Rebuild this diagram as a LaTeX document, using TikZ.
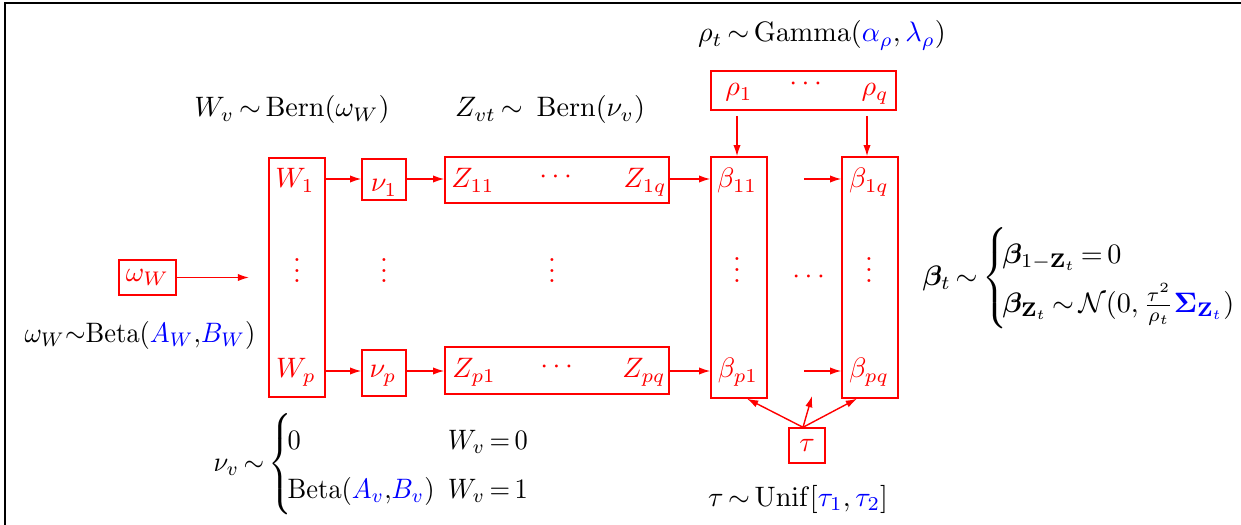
\documentclass[tikz,border=0pt]{standalone}
\usepackage{amsmath,amssymb,bm,graphicx}
\usetikzlibrary{arrows.meta,fit}
\thickmuskip=3mu plus 2mu
\medmuskip=3mu plus 1mu
\newcommand\myvdots{\vbox{\baselineskip3.8pt\lineskiplimit0pt\hbox{.}\hbox{.}\hbox{.}}}
\begin{document}
\begin{tikzpicture}[x=0.0125cm,y=-0.0125cm,
  box/.style={draw=red,line width=0.5pt,inner sep=0pt},
  rtxt/.style={text=red,inner sep=0pt},
  btxt/.style={text=black,inner sep=0pt},
  arr/.style={red,line width=0.5pt,-{Latex[length=4pt,width=2.6pt]}}]
\useasboundingbox (0,0) rectangle (1241,525);
\draw[line width=0.8pt] (5,525) -- (5,3) -- (1241,3);

% ---------- black labels ----------
\node[btxt,anchor=base] (lW) at (292,117) {$W_v\sim\mathrm{Bern}(\omega_W)$};
\node[btxt,anchor=base] (lZ) at (550,117) {$Z_{vt}\sim\ \mathrm{Bern}(\nu_v)$};
\node[btxt,anchor=base] (lrho) at (822,42) {$\rho_t\sim\mathrm{Gamma}(\textcolor{blue}{\alpha_\rho},\textcolor{blue}{\lambda_\rho})$};
\node[btxt,anchor=base] (lom) at (140,342) {\scalebox{0.94}[1]{$\omega_W{\sim}\mathrm{Beta}(\textcolor{blue}{A_W}{,}\textcolor{blue}{B_W})$}};
\node[btxt,anchor=west] (lnu) at (213,464) {\scalebox{0.94}[1]{$\nu_v\sim\left\{\!\renewcommand{\arraystretch}{1.45}\begin{array}{@{}l@{\hspace{5pt}}l@{}}0 & W_v=0\\ \mathrm{Beta}(\textcolor{blue}{A_v}{,}\textcolor{blue}{B_v}) & W_v=1\end{array}\right.$}};
\node[btxt,anchor=west] (lbeta) at (922,278) {$\bm{\beta}_t\sim\left\{\!\renewcommand{\arraystretch}{1.45}\begin{array}{@{}l@{}}\bm{\beta}_{1-\mathbf{Z}_t}=0\\ \bm{\beta}_{\mathbf{Z}_t}\sim\mathcal{N}(0,\frac{\tau^2}{\rho_t}\textcolor{blue}{\bm{\Sigma}_{\mathbf{Z}_t}})\end{array}\right.$};
\node[btxt,anchor=base] (ltau) at (798,506) {$\tau\sim\mathrm{Unif}[\textcolor{blue}{\tau_1},\textcolor{blue}{\tau_2}]$};

% ---------- red boxes ----------
\node[box,fit={(269,158)(325,397)}] (Wcol) {};
\node[box,minimum width=0.55cm,minimum height=0.5125cm] (nu1) at (384,179.5) {};
\node[box,minimum width=0.55cm,minimum height=0.575cm] (nup) at (384,373) {};
\node[box,fit={(445,157)(669,203)}] (Z1) {};
\node[box,fit={(445,347)(669,394)}] (Zp) {};
\node[box,fit={(711,71)(896,110)}] (rho) {};
\node[box,fit={(711,157)(767,398)}] (B1) {};
\node[box,fit={(842,157)(898,398)}] (B2) {};
\node[box,text=red,minimum width=0.7125cm,minimum height=0.4375cm] (om) at (147.5,277.5) {$\omega_W$};
\node[box,text=red,minimum width=0.45cm,minimum height=0.4375cm] (tau) at (807,445.5) {$\tau$};

% ---------- red texts ----------
\node[rtxt,anchor=base] (W1) at (295,188) {$W_1$};
\node[rtxt,anchor=base] (Wd) at (297,283) {$\myvdots$};
\node[rtxt,anchor=base] (Wp) at (296,378) {$W_p$};
\node[rtxt,anchor=base] (nu1t) at (384,192) {$\nu_1$};
\node[rtxt,anchor=base] (nud) at (384,283) {$\myvdots$};
\node[rtxt,anchor=base] (nupt) at (383,378) {$\nu_p$};
\node[rtxt,anchor=base] (Z11) at (473,188) {$Z_{11}$};
\node[rtxt,anchor=base] (Z1c) at (558,184) {$\cdots$};
\node[rtxt,anchor=base] (Z1q) at (645,188) {$Z_{1q}$};
\node[rtxt,anchor=base] (Zd) at (552,283) {$\myvdots$};
\node[rtxt,anchor=base] (Zp1) at (474,378) {$Z_{p1}$};
\node[rtxt,anchor=base] (Zpc) at (559,374) {$\cdots$};
\node[rtxt,anchor=base] (Zpq) at (644,378) {$Z_{pq}$};
\node[rtxt,anchor=base] (rho1) at (739,96) {$\rho_1$};
\node[rtxt,anchor=base] (rhoc) at (808,91) {$\cdots$};
\node[rtxt,anchor=base] (rhoq) at (875,96) {$\rho_q$};
\node[rtxt,anchor=base] (b11) at (737,188) {$\beta_{11}$};
\node[rtxt,anchor=base] (bd1) at (737,282) {$\myvdots$};
\node[rtxt,anchor=base] (bp1) at (738,378) {$\beta_{p1}$};
\node[rtxt,anchor=base] (b1q) at (869,188) {$\beta_{1q}$};
\node[rtxt,anchor=base] (bd2) at (869,282) {$\myvdots$};
\node[rtxt,anchor=base] (bpq) at (869,378) {$\beta_{pq}$};
\node[rtxt,anchor=base] (bc) at (811,284) {$\cdots$};

% ---------- connectors ----------
\coordinate (r1) at (0,179);
\coordinate (r3) at (0,371);
\coordinate (s1) at (804,179);
\coordinate (s3) at (804,371);
\coordinate (wend) at (249,277.5);
\coordinate (ra) at (737,116);
\coordinate (rb) at (867,116);
\coordinate (tm) at (812,396);

\draw[arr] (Wcol.east|-r1) -- (nu1.west|-r1);
\draw[arr] (nu1.east|-r1) -- (Z1.west|-r1);
\draw[arr] (Z1.east|-r1) -- (B1.west|-r1);
\draw[arr] (s1) -- (B2.west|-s1);
\draw[arr] (Wcol.east|-r3) -- (nup.west|-r3);
\draw[arr] (nup.east|-r3) -- (Zp.west|-r3);
\draw[arr] (Zp.east|-r3) -- (B1.west|-r3);
\draw[arr] (s3) -- (B2.west|-s3);
\draw[arr] (om.east) -- (wend);
\draw[arr] (ra) -- (ra|-B1.north);
\draw[arr] (rb) -- (rb|-B2.north);
\draw[arr] ([xshift=-0.05cm]tau.north) -- ([xshift=0.1cm]B1.south);
\draw[arr] ([xshift=-0.05cm]tau.north) -- ([xshift=-0.1625cm]B2.south);
\draw[arr] ([xshift=-0.05cm]tau.north) -- (tm);
\end{tikzpicture}
\end{document}
